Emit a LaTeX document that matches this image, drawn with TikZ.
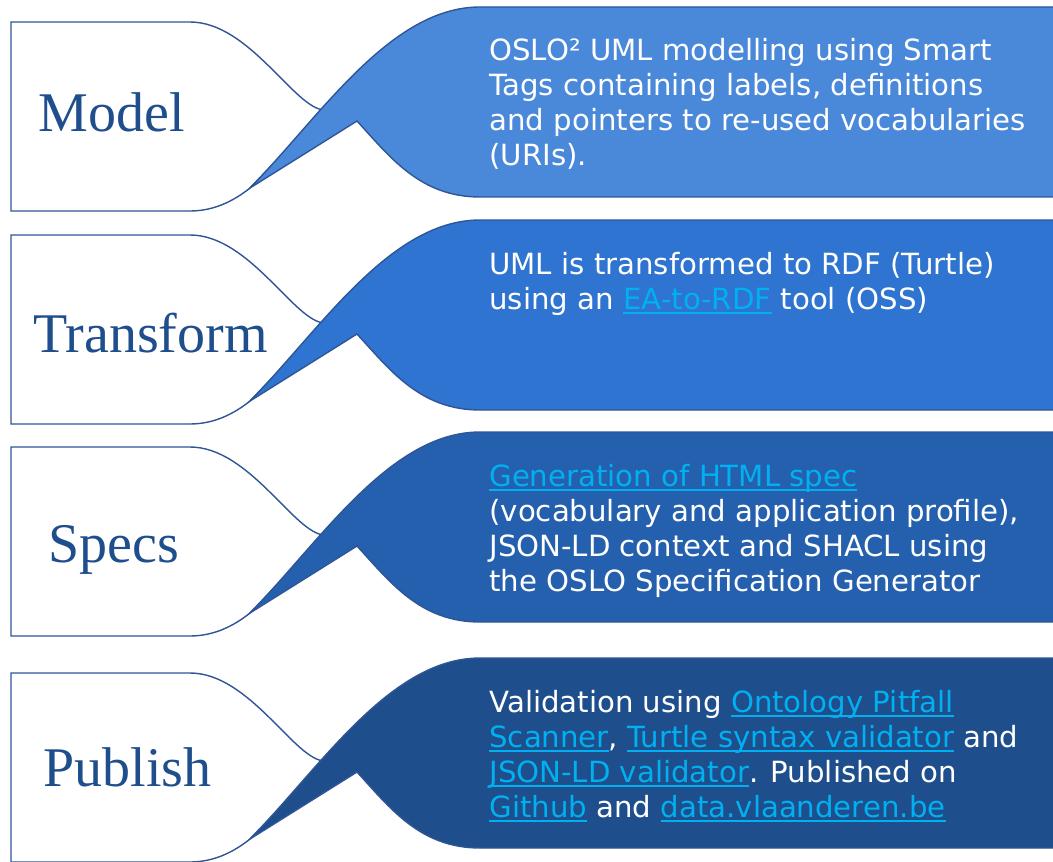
\documentclass[tikz,border=0pt]{standalone}
\usepackage{fontspec}
\setmainfont{Liberation Serif}
\newfontfamily\bodyfont{DejaVu Sans}
\usepackage{xcolor}
\usepackage{tikz}

\definecolor{labelblue}{HTML}{1F4E8C}
\definecolor{edgeblue}{HTML}{2F5597}
\definecolor{modelblue}{HTML}{4A89DA}
\definecolor{transformblue}{HTML}{2E74D0}
\definecolor{specsblue}{HTML}{2560AE}
\definecolor{publishblue}{HTML}{1F4E8C}
\definecolor{linkblue}{HTML}{00B0F0}
\newcommand{\lnk}[1]{{\color{linkblue}\setbox0\hbox{#1}\rlap{\rule[-2.4pt]{\wd0}{0.7pt}}\box0}}

\begin{document}
\begin{tikzpicture}[x=0.5pt, y=-0.5pt,
  stepname/.style={anchor=base west, text=labelblue, inner sep=0, font=\fontsize{28}{30}\selectfont},
  stepdesc/.style={anchor=base west, text=white, align=left, inner sep=0, font=\bodyfont\fontsize{14.6}{17.5}\selectfont},
  tagshape/.style={draw=edgeblue, line width=0.7pt, fill=white},
  bubble/.style={draw=edgeblue, line width=0.7pt}]

\useasboundingbox (0,0) rectangle (1053,861);
\clip (0,0) rectangle (1053,861);

% white tags
\draw[tagshape, shift={(0,22)}] (11,0) -- (190,0) .. controls (250,0) and (295,88) .. (325,88) -- (250,166) .. controls (235,178) and (215,189) .. (190,189) -- (11,189) -- cycle;
\draw[tagshape, shift={(0,235)}] (11,0) -- (190,0) .. controls (250,0) and (295,88) .. (325,88) -- (250,166) .. controls (235,178) and (215,189) .. (190,189) -- (11,189) -- cycle;
\draw[tagshape, shift={(0,447)}] (11,0) -- (190,0) .. controls (250,0) and (295,88) .. (325,88) -- (250,166) .. controls (235,178) and (215,189) .. (190,189) -- (11,189) -- cycle;
\draw[tagshape, shift={(0,673)}] (11,0) -- (190,0) .. controls (250,0) and (295,88) .. (325,88) -- (250,166) .. controls (235,178) and (215,189) .. (190,189) -- (11,189) -- cycle;

% blue bubbles
\draw[bubble, fill=modelblue, shift={(0,22)}] (250,166) .. controls (320,95) and (390,-15) .. (480,-15) -- (1060,-15) -- (1060,175) -- (480,175) .. controls (420,175) and (390,135) .. (357,99) -- cycle;
\draw[bubble, fill=transformblue, shift={(0,235)}] (250,166) .. controls (320,95) and (390,-15) .. (480,-15) -- (1060,-15) -- (1060,175) -- (480,175) .. controls (420,175) and (390,135) .. (357,99) -- cycle;
\draw[bubble, fill=specsblue, shift={(0,447)}] (250,166) .. controls (320,95) and (390,-15) .. (480,-15) -- (1060,-15) -- (1060,175) -- (480,175) .. controls (420,175) and (390,135) .. (357,99) -- cycle;
\draw[bubble, fill=publishblue, shift={(0,673)}] (250,166) .. controls (320,95) and (390,-15) .. (480,-15) -- (1060,-15) -- (1060,175) -- (480,175) .. controls (420,175) and (390,135) .. (357,99) -- cycle;

\node[stepname] (model) at (38,132) {Model};
\node[stepname] (transform) at (33,352) {Transform};
\node[stepname] (specs) at (48,562) {Specs};
\node[stepname] (publish) at (43,786) {Publish};

% base anchor sits on the last line
\node[stepdesc] (modeltxt) at (489,166) {OSLO² UML modelling using Smart\\Tags containing labels, definitions\\and pointers to re-used vocabularies\\(URIs).};
\node[stepdesc] (transformtxt) at (489,309) {UML is transformed to RDF (Turtle)\\using an \lnk{EA-to-RDF} tool (OSS)};
\node[stepdesc] (specstxt) at (489,591) {\lnk{Generation of HTML spec}\\(vocabulary and application profile),\\JSON-LD context and SHACL using\\the OSLO Specification Generator};
\node[stepdesc] (publishtxt) at (489,817) {Validation using \lnk{Ontology Pitfall}\\\lnk{Scanner}, \lnk{Turtle syntax validator} and\\\lnk{JSON-LD validator}. Published on\\\lnk{Github} and \lnk{data.vlaanderen.be}};
\end{tikzpicture}
\end{document}
